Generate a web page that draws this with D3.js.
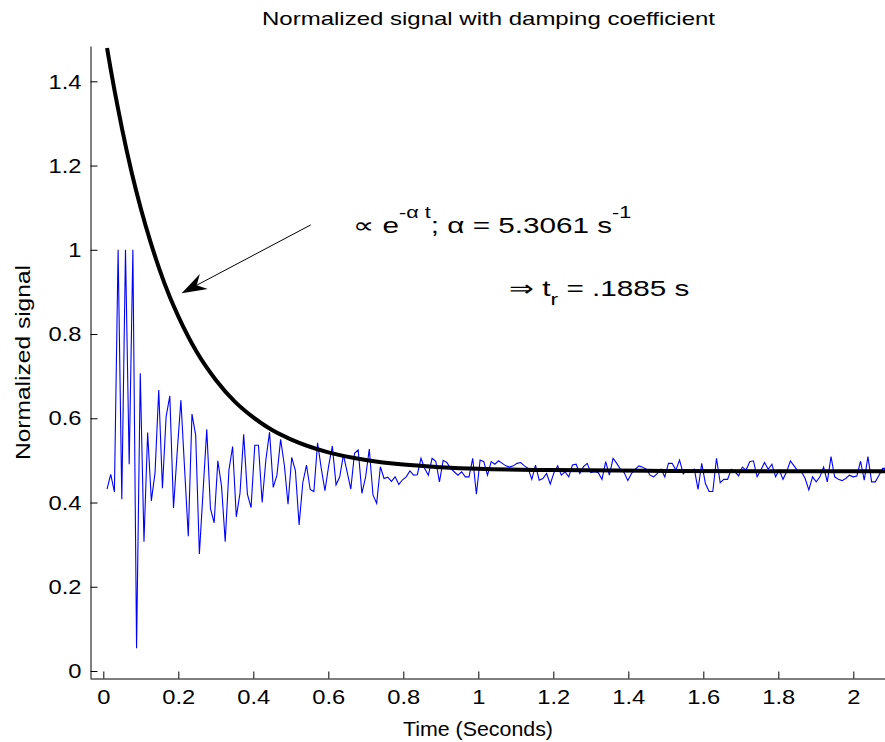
<!DOCTYPE html>
<html><head><meta charset="utf-8">
<script src="https://cdn.jsdelivr.net/npm/d3@7"></script>
<style>
body{margin:0;background:#fff}
svg{display:block}
text{font-family:"Liberation Sans",Arial,Helvetica,sans-serif;fill:#000}
</style>
</head><body>
<svg id="chart" width="885" height="742"></svg>
<script>
// ---- data ----
const xTicks = [0, 0.2, 0.4, 0.6, 0.8, 1, 1.2, 1.4, 1.6, 1.8, 2];
const xTickLabels = ["0", "0.2", "0.4", "0.6", "0.8", "1", "1.2", "1.4", "1.6", "1.8", "2"];
const yTicks = [0, 0.2, 0.4, 0.6, 0.8, 1, 1.2, 1.4];
const yTickLabels = ["0", "0.2", "0.4", "0.6", "0.8", "1", "1.2", "1.4"];

// measured signal, uniformly sampled
const sampleStart = 0.0099;
const sampleStep = 0.00985;
const signal = [
 0.432,0.467,0.425,1.0,0.408,1.0,0.491,1.0,0.054,0.707,
 0.307,0.566,0.404,0.471,0.667,0.434,0.604,0.653,0.387,0.52,
 0.643,0.48,0.320,0.610,0.560,0.278,0.426,0.574,0.386,0.352,
 0.499,0.439,0.307,0.477,0.533,0.366,0.422,0.562,0.420,0.388,
 0.536,0.536,0.400,0.501,0.567,0.436,0.465,0.550,0.489,0.396,
 0.507,0.476,0.347,0.447,0.489,0.431,0.426,0.542,0.481,0.428,
 0.487,0.534,0.442,0.461,0.513,0.473,0.432,0.517,0.525,0.422,
 0.46,0.527,0.418,0.398,0.485,0.457,0.46,0.45,0.461,0.443,
 0.454,0.461,0.475,0.465,0.466,0.505,0.481,0.465,0.505,0.498,
 0.449,0.50,0.495,0.481,0.473,0.465,0.473,0.461,0.461,0.505,
 0.420,0.501,0.497,0.465,0.497,0.491,0.499,0.493,0.487,0.484,
 0.487,0.493,0.495,0.487,0.481,0.455,0.489,0.453,0.457,0.469,
 0.444,0.471,0.487,0.465,0.473,0.461,0.489,0.491,0.469,0.485,
 0.493,0.471,0.473,0.471,0.455,0.497,0.465,0.505,0.493,0.479,
 0.471,0.452,0.469,0.479,0.487,0.484,0.479,0.465,0.461,0.469,
 0.479,0.461,0.493,0.493,0.477,0.501,0.468,0.477,0.473,0.479,
 0.431,0.493,0.445,0.426,0.426,0.505,0.447,0.455,0.455,0.479,
 0.473,0.463,0.484,0.477,0.497,0.499,0.461,0.477,0.495,0.479,
 0.491,0.461,0.477,0.455,0.473,0.499,0.487,0.475,0.473,0.457,
 0.430,0.461,0.449,0.461,0.484,0.449,0.509,0.461,0.455,0.452,
 0.457,0.465,0.461,0.463,0.498,0.453,0.509,0.449,0.449,0.465,
 0.481,0.481
];

// fitted exponential envelope
const fitTime  = [0.01,0.02,0.03,0.04,0.05,0.075,0.1,0.125,0.15,0.175,0.2,0.25,0.3,0.35,0.4,0.45,0.5,0.6,0.7,0.8,0.9,1.0,1.2,1.5,1.8,2.1];
const fitValue = [1.479,1.427,1.378,1.332,1.287,1.186,1.098,1.021,0.953,0.893,0.842,0.756,0.691,0.640,0.602,0.572,0.550,0.519,0.501,0.490,0.484,0.480,0.477,0.475,0.474,0.474];

// annotation anchors (data coordinates)
const arrowTip  = [0.209, 0.897];
const arrowTail = [0.553, 1.059];
const note1Pos  = [0.665, 1.040];
const note2Pos  = [1.082, 0.890];

// ---- drawing ----
const svg = d3.select("#chart");
const x = d3.scaleLinear().domain([-0.0355, 2.0845]).range([90, 885]);
const y = d3.scaleLinear().domain([-0.0166, 1.4838]).range([678, 46]);

svg.append("defs").append("clipPath").attr("id","plotclip")
  .append("rect").attr("x",90).attr("y",40).attr("width",795).attr("height",640);

// title
svg.append("text").attr("x", 262).attr("y", 25)
  .style("font-size","19px").attr("textLength", 453).attr("lengthAdjust","spacingAndGlyphs")
  .text("Normalized signal with damping coefficient");

// axes
const xAxis = d3.axisBottom(x).tickValues(xTicks)
  .tickFormat((d,i)=>xTickLabels[i]).tickSizeInner(-7).tickSizeOuter(0).tickPadding(11);
const yAxis = d3.axisLeft(y).tickValues(yTicks)
  .tickFormat((d,i)=>yTickLabels[i]).tickSizeInner(-7).tickSizeOuter(0).tickPadding(8);

const gx = svg.append("g").attr("transform","translate(0,678.5)").call(xAxis);
const gy = svg.append("g").attr("transform","translate(90.5,0)").call(yAxis);
[gx, gy].forEach(g => {
  g.selectAll("path,line").attr("stroke","#000").attr("stroke-width",1);
  g.selectAll("text").style("font-size","21px").attr("fill","#000")
   .style("font-family",'"Liberation Sans",Arial,sans-serif')
   .attr("transform","scale(1.13,1)");
});

// axis labels
svg.append("text").attr("x", 403).attr("y", 736)
  .style("font-size","20px").attr("textLength", 150).attr("lengthAdjust","spacingAndGlyphs")
  .text("Time (Seconds)");
svg.append("text").attr("transform","translate(30,460) rotate(-90)")
  .style("font-size","20px").attr("textLength", 195).attr("lengthAdjust","spacingAndGlyphs")
  .text("Normalized signal");

const plot = svg.append("g").attr("clip-path","url(#plotclip)");

// blue signal
const sigLine = d3.line().x((d,i)=>x(sampleStart + i*sampleStep)).y(d=>y(d));
plot.append("path").datum(signal).attr("d", sigLine)
  .attr("fill","none").attr("stroke","#0000ff").attr("stroke-width",1.1)
  .attr("stroke-linejoin","miter");

// black fit curve
const fitLine = d3.line().x(d=>x(d[0])).y(d=>y(d[1])).curve(d3.curveMonotoneX);
plot.append("path").datum(fitTime.map((t,i)=>[t, fitValue[i]])).attr("d", fitLine)
  .attr("fill","none").attr("stroke","#000").attr("stroke-width",4);

// arrow
const tx = x(arrowTip[0]), ty = y(arrowTip[1]);
const sx = x(arrowTail[0]), sy = y(arrowTail[1]);
const ang = Math.atan2(sy - ty, sx - tx) * 180 / Math.PI;
svg.append("line").attr("x1", sx).attr("y1", sy).attr("x2", tx + (sx-tx)*0.12).attr("y2", ty + (sy-ty)*0.12)
  .attr("stroke","#000").attr("stroke-width",1);
svg.append("path").attr("transform",`translate(${tx},${ty}) rotate(${ang})`)
  .attr("d","M0,0 L25,-8.5 L17,0 L25,8.5 Z").attr("fill","#000");

// annotation texts
const n1 = svg.append("g").attr("transform",`translate(${x(note1Pos[0])},${y(note1Pos[1])}) scale(1.35,1)`)
  .append("text").style("font-size","22px");
n1.append("tspan").text("\u221D e");
n1.append("tspan").attr("dy",-15).style("font-size","16px").text("-\u03B1 t");
n1.append("tspan").attr("dy",15).text("; \u03B1 = 5.3061 s");
n1.append("tspan").attr("dy",-15).style("font-size","16px").text("-1");

const n2 = svg.append("g").attr("transform",`translate(${x(note2Pos[0])},${y(note2Pos[1])}) scale(1.35,1)`)
  .append("text").style("font-size","22px");
n2.append("tspan").text("\u21D2 t");
n2.append("tspan").attr("dy",9).style("font-size","17px").text("r");
n2.append("tspan").attr("dy",-9).text(" = .1885 s");
</script>
</body></html>
